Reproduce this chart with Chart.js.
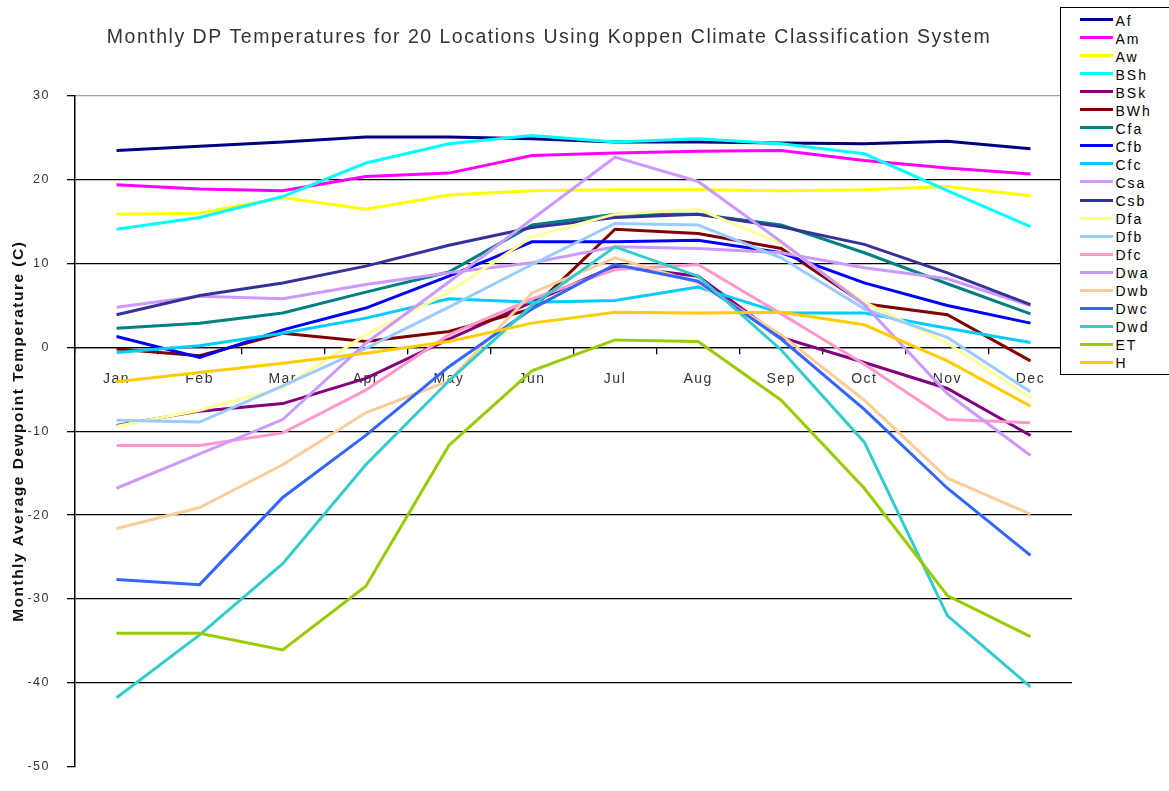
<!DOCTYPE html>
<html>
<head>
<meta charset="utf-8">
<title>Monthly DP Temperatures</title>
<script src="https://cdn.jsdelivr.net/npm/chart.js@4.4.1/dist/chart.umd.min.js"></script>
<style>
  html, body { margin: 0; padding: 0; background: #fff; }
  #wrap { position: relative; width: 1169px; height: 791px; overflow: hidden; }
  #legend {
    position: absolute; left: 1060px; top: 7px; width: 130px; height: 366px;
    border: 1.5px solid #000; background: #fff;
    font-family: "Liberation Sans", Arial, sans-serif; font-size: 14px; letter-spacing: 2px; color: #000;
  }
  #legend .item { position: absolute; left: 0; width: 120px; height: 18px; line-height: 18px; white-space: nowrap; }
  #legend .swatch { position: absolute; left: 18.5px; top: 7.5px; width: 33px; height: 3px; }
  #legend .label { position: absolute; left: 54.5px; top: 1px; }
</style>
</head>
<body>
<div id="wrap">
  <canvas id="chart" width="1169" height="791"></canvas>
  <div id="legend"></div>
</div>
<script>
const months = ["Jan", "Feb", "Mar", "Apr", "May", "Jun", "Jul", "Aug", "Sep", "Oct", "Nov", "Dec"];
const zones = ["Af", "Am", "Aw", "BSh", "BSk", "BWh", "Cfa", "Cfb", "Cfc", "Csa",
               "Csb", "Dfa", "Dfb", "Dfc", "Dwa", "Dwb", "Dwc", "Dwd", "ET", "H"];
const colors = ["#000080", "#FF00FF", "#FFFF00", "#00FFFF", "#800080", "#800000", "#008080", "#0000FF", "#00CCFF", "#CC99FF",
                "#333399", "#FFFF99", "#99CCFF", "#FF99CC", "#CC99FF", "#FFCC99", "#3366FF", "#33CCCC", "#99CC00", "#FFCC00"];

// monthly average dewpoint, deg C
const af  = [23.5, 24.0, 24.5, 25.1, 25.1, 24.9, 24.5, 24.5, 24.4, 24.3, 24.6, 23.7];
const am  = [19.4, 18.9, 18.7, 20.4, 20.8, 22.9, 23.2, 23.4, 23.5, 22.3, 21.4, 20.7];
const aw  = [15.9, 16.0, 17.9, 16.5, 18.2, 18.7, 18.8, 18.8, 18.7, 18.8, 19.2, 18.1];
const bsh = [14.1, 15.5, 18.0, 22.0, 24.3, 25.3, 24.5, 24.9, 24.3, 23.1, 18.7, 14.4];
const bsk = [-9.3, -7.6, -6.7, -3.7, 1.0, 5.4, 9.7, 8.5, 1.2, -1.8, -4.9, -10.5];
const bwh = [-0.2, -1.0, 1.7, 0.7, 1.9, 4.6, 14.1, 13.6, 11.8, 5.2, 3.9, -1.6];
const cfa = [2.3, 2.9, 4.1, 6.6, 9.0, 14.6, 15.9, 15.9, 14.6, 11.3, 7.6, 4.0];
const cfb = [1.3, -1.2, 2.1, 4.7, 8.5, 12.6, 12.6, 12.8, 11.3, 7.7, 5.0, 2.9];
const cfc = [-0.6, 0.2, 1.7, 3.5, 5.8, 5.4, 5.6, 7.2, 4.1, 4.1, 2.3, 0.6];
const csa = [4.8, 6.1, 5.8, 7.5, 8.9, 10.1, 12.0, 11.8, 11.3, 9.5, 8.2, 5.0];
const csb = [3.9, 6.2, 7.7, 9.7, 12.2, 14.3, 15.5, 15.9, 14.4, 12.3, 8.9, 5.1];
const dfa = [-9.4, -7.5, -4.8, 1.5, 6.6, 13.2, 15.9, 16.5, 12.4, 5.4, 0.5, -6.0];
const dfb = [-8.7, -8.9, -4.6, -0.1, 4.8, 9.9, 14.8, 14.6, 10.7, 4.6, 1.2, -5.3];
const dfc = [-11.7, -11.7, -10.2, -5.1, 1.5, 5.8, 9.3, 9.9, 4.0, -2.0, -8.6, -9.0];
const dwa = [-16.8, -12.7, -8.6, 0.5, 7.8, 15.3, 22.7, 19.8, 12.6, 5.1, -5.5, -12.9];
const dwb = [-21.6, -19.1, -14.0, -7.8, -4.0, 6.5, 10.7, 7.7, 1.5, -6.3, -15.6, -19.9];
const dwc = [-27.7, -28.3, -17.9, -10.5, -2.3, 4.6, 9.9, 7.9, 1.0, -7.4, -16.8, -24.8];
const dwd = [-41.8, -34.3, -25.8, -14.0, -4.0, 5.0, 12.0, 8.5, -0.3, -11.3, -32.0, -40.5];
const et  = [-34.1, -34.1, -36.1, -28.5, -11.7, -2.8, 0.9, 0.7, -6.3, -16.8, -29.6, -34.5];
const h   = [-4.1, -3.0, -1.9, -0.7, 0.7, 2.9, 4.2, 4.1, 4.2, 2.7, -1.6, -7.0];

const series = [af, am, aw, bsh, bsk, bwh, cfa, cfb, cfc, csa, csb, dfa, dfb, dfc, dwa, dwb, dwc, dwd, et, h];

const fontFamily = "'Liberation Sans', Arial, sans-serif";

// the original text is drawn with wide tracking
const letterSpacing = {
  id: "letterSpacing",
  beforeDraw(chart) {
    chart.ctx.letterSpacing = "1.5px";
  }
};

function renderLegend() {
  const legend = document.getElementById("legend");
  zones.forEach((zone, i) => {
    const item = document.createElement("div");
    item.className = "item";
    item.style.top = (2.5 + i * 18.05) + "px";
    item.innerHTML = `<span class="swatch" style="background:${colors[i]}"></span><span class="label">${zone}</span>`;
    legend.appendChild(item);
  });
}

function renderChart() {
  const ctx = document.getElementById("chart").getContext("2d");

  new Chart(ctx, {
    type: "line",
    data: {
      labels: months,
      datasets: zones.map((zone, i) => ({
        label: zone,
        data: series[i],
        borderColor: colors[i],
        backgroundColor: colors[i],
        borderWidth: 3,
        pointRadius: 0,
        tension: 0,
        fill: false,
        order: -i
      }))
    },
    options: {
      responsive: false,
      animation: false,
      layout: { padding: { left: 26, right: 97, top: 0, bottom: 11 } },
      plugins: {
        legend: { display: false },
        tooltip: { enabled: false },
        title: {
          display: true,
          text: "Monthly DP Temperatures for 20 Locations Using Koppen Climate Classification System",
          color: "#333",
          font: { family: fontFamily, size: 19.5, weight: "normal" },
          padding: { top: 26, bottom: 46.6 }
        }
      },
      scales: {
        x: {
          type: "category",
          offset: true,
          position: { y: 0 },
          grid: { offset: true, drawOnChartArea: false, tickLength: 6, tickColor: "#000", lineWidth: 1.3 },
          border: { color: "#000", width: 1.3 },
          ticks: {
            color: "#333",
            padding: 17,
            autoSkip: false,
            maxRotation: 0,
            font: { family: fontFamily, size: 14 }
          },
          afterFit(scale) {
            scale.height = 0;
          }
        },
        y: {
          min: -50,
          max: 30,
          ticks: {
            stepSize: 10,
            color: "#333",
            padding: 17,
            font: { family: fontFamily, size: 12.5 }
          },
          grid: {
            color: (c) => c.tick.value === 30 ? "#a0a0a0" : c.tick.value === -50 ? "rgba(0,0,0,0)" : "#000",
            tickColor: "#000",
            tickLength: 8,
            lineWidth: 1.3
          },
          border: { color: "#000", width: 1.5 },
          title: {
            display: true,
            text: "Monthly Average Dewpoint Temperature (C)",
            color: "#111",
            font: { family: fontFamily, size: 15.5, weight: "bold" },
            padding: { top: -17, bottom: 0 }
          },
          afterFit(scale) {
            scale.width = 49;
          }
        }
      }
    },
    plugins: [letterSpacing]
  });
}

renderLegend();
renderChart();
</script>
</body>
</html>
